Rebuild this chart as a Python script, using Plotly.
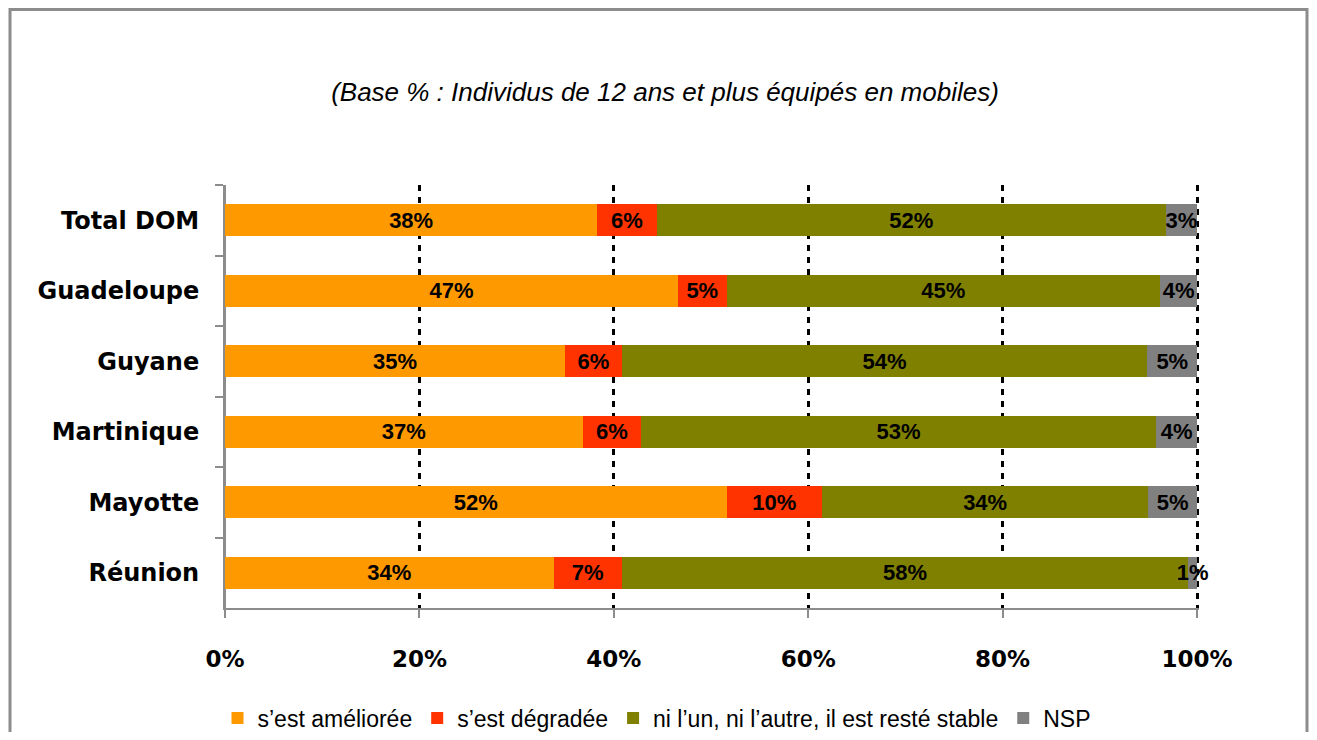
import plotly.graph_objects as go

# regions, top to bottom
regions = ["Total DOM", "Guadeloupe", "Guyane", "Martinique", "Mayotte", "Réunion"]

# shares in %
ameliore = [38.3, 46.6, 35.0, 36.8, 51.6, 33.8]
degrade = [6.1, 5.0, 5.8, 6.0, 9.8, 7.0]
stable = [52.4, 44.6, 54.1, 53.0, 33.6, 58.3]
nsp = [3.2, 3.8, 5.1, 4.2, 5.0, 0.9]

series = [
    ("s\u2019est améliorée", ameliore, "#FF9900"),
    ("s\u2019est dégradée", degrade, "#FF3300"),
    ("ni l\u2019un, ni l\u2019autre, il est resté stable", stable, "#808000"),
    ("NSP", nsp, "#808080"),
]

W, H = 1301, 724          # page has an 8px body margin
L, R, T, B = 217, 110, 177, 124
pw, ph = W - L - R, H - T - B

fig = go.Figure()
for name, vals, col in series:
    fig.add_trace(go.Bar(
        y=regions, x=vals, name=name, orientation="h",
        marker=dict(color=col, line=dict(width=0)),
        text=[f"{v:.0f}%" for v in vals],
        textposition="inside", insidetextanchor="middle",
        constraintext="none", textangle=0, cliponaxis=False,
        textfont=dict(family="Liberation Sans", size=22, color="black", weight="bold"),
    ))

fig.update_layout(
    barmode="stack",
    bargap=0.55,
    width=W, height=H,
    margin=dict(l=L, r=R, t=T, b=B, autoexpand=False),
    paper_bgcolor="white", plot_bgcolor="white",
    title=dict(
        text="<i>(Base % : Individus de 12 ans et plus équipés en mobiles)</i>",
        x=657 / W, y=1 - 84 / H, xanchor="center", yanchor="middle",
        font=dict(family="Liberation Sans", size=26, color="black"),
    ),
    legend=dict(
        orientation="h", x=(649 - L) / pw, y=(ph + T - 710) / ph,
        xanchor="center", yanchor="middle",
        font=dict(family="Liberation Sans", size=23, color="black"),
        itemwidth=30, traceorder="normal",
    ),
)

fig.update_xaxes(
    range=[0, 100.2], tickvals=[0, 20, 40, 60, 80, 100],
    ticktext=["0%", "20%", "40%", "60%", "80%", "100%"],
    showgrid=True, gridcolor="black", gridwidth=3, griddash="6px,6px",
    zeroline=True, zerolinecolor="#8c8c8c", zerolinewidth=2,
    showline=True, linecolor="#8c8c8c", linewidth=2,
    ticks="outside", ticklen=8, tickcolor="#8c8c8c", tickwidth=2,
    ticklabelstandoff=21,
    tickfont=dict(family="DejaVu Sans", size=23, color="black", weight="bold"),
)
fig.update_yaxes(
    autorange="reversed", tickson="boundaries",
    showline=True, linecolor="#8c8c8c", linewidth=2,
    ticks="outside", ticklen=8, tickcolor="#8c8c8c", tickwidth=2,
    ticklabelstandoff=19,
    tickfont=dict(family="DejaVu Sans", size=24, color="black", weight="bold"),
)

# outer frame of the chart
fig.add_shape(type="rect", xref="paper", yref="paper",
              x0=(2 - L) / pw, x1=(W - 2 - L) / pw,
              y0=(ph + T - 760) / ph, y1=(ph + T - 1.5) / ph,
              line=dict(color="#8c8c8c", width=3), layer="below")

fig.write_html("out.html")
